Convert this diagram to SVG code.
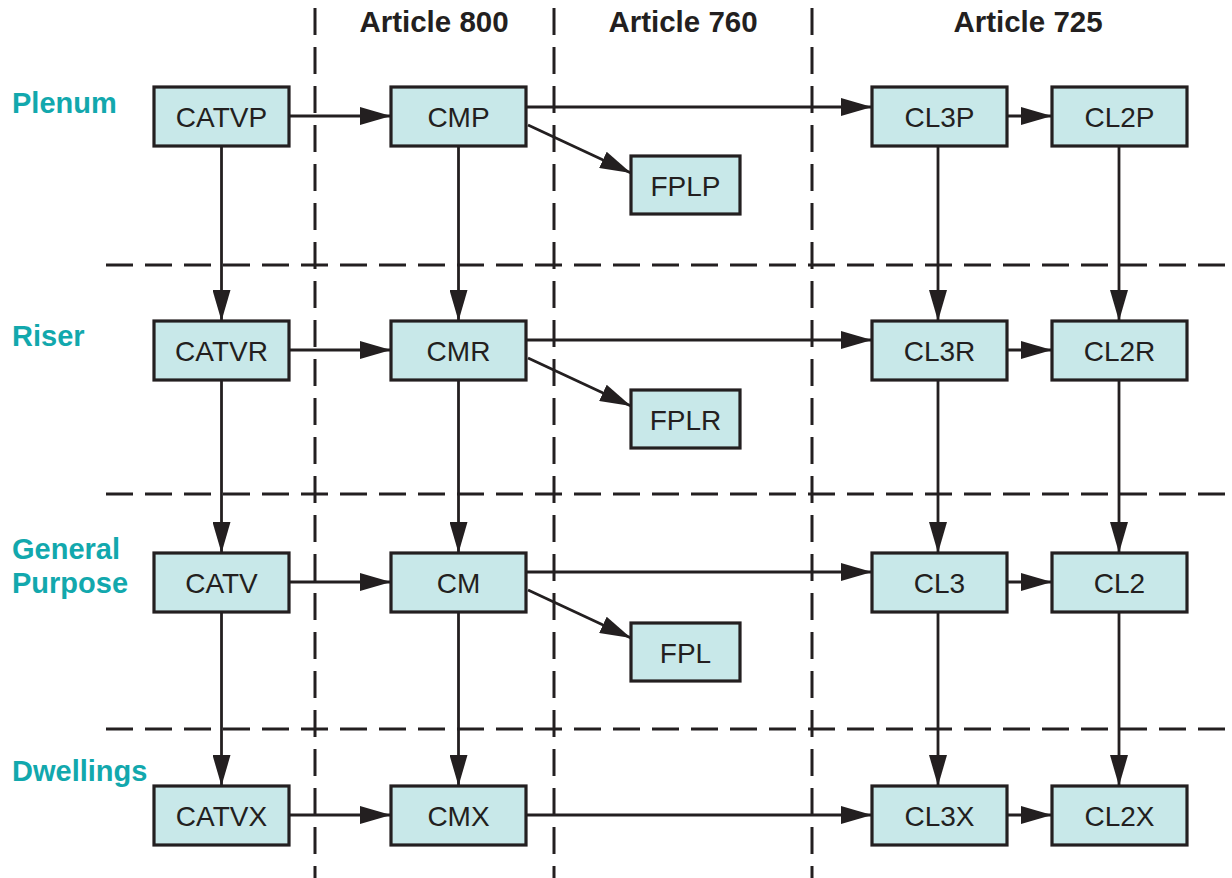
<svg xmlns="http://www.w3.org/2000/svg" width="1232" height="878" viewBox="0 0 1232 878">
<style>
.bg{fill:#ffffff}
.grid{stroke:#231f20;stroke-width:3;stroke-dasharray:27 12;fill:none}
.box{fill:#c8e8e9;stroke:#231f20;stroke-width:3.2}
.lbl{font-family:"Liberation Sans",Arial,sans-serif;font-size:28px;fill:#231f20;text-anchor:middle}
.hdr{font-family:"Liberation Sans",Arial,sans-serif;font-size:29.5px;font-weight:bold;fill:#231f20;text-anchor:middle}
.row{font-family:"Liberation Sans",Arial,sans-serif;font-size:29px;font-weight:bold;fill:#12a8ad}
.con{stroke:#231f20;stroke-width:2.8;fill:none;marker-end:url(#ah)}
</style>
<defs>
<marker id="ah" viewBox="0 0 31 18" refX="31" refY="9" markerWidth="31" markerHeight="18" markerUnits="userSpaceOnUse" orient="auto">
<path d="M0,0 L31,9 L0,18 Z" fill="#231f20"/>
</marker>
</defs>
<rect class="bg" x="0" y="0" width="1232" height="878"/>
<g id="gridlines">
<line class="grid" x1="315" y1="8" x2="315" y2="878"/>
<line class="grid" x1="554" y1="8" x2="554" y2="878"/>
<line class="grid" x1="812" y1="8" x2="812" y2="878"/>
<line class="grid" x1="106" y1="265" x2="1232" y2="265"/>
<line class="grid" x1="106" y1="494" x2="1232" y2="494"/>
<line class="grid" x1="106" y1="729" x2="1232" y2="729"/>
</g>
<g id="headers">
<text class="hdr" x="434" y="32">Article 800</text>
<text class="hdr" x="683" y="32">Article 760</text>
<text class="hdr" x="1028" y="32">Article 725</text>
</g>
<g id="row-labels">
<text class="row" x="12" y="113">Plenum</text>
<text class="row" x="12" y="346">Riser</text>
<text class="row" x="12" y="559">General</text>
<text class="row" x="12" y="593">Purpose</text>
<text class="row" x="12" y="781">Dwellings</text>
</g>
<g id="connectors">
<line class="con" x1="289" y1="116" x2="391" y2="116"/>
<line class="con" x1="526" y1="107" x2="872" y2="107"/>
<line class="con" x1="528" y1="125" x2="631" y2="173"/>
<line class="con" x1="1007" y1="116" x2="1052" y2="116"/>
<line class="con" x1="289" y1="350" x2="391" y2="350"/>
<line class="con" x1="526" y1="340" x2="872" y2="340"/>
<line class="con" x1="528" y1="358" x2="631" y2="406"/>
<line class="con" x1="1007" y1="350" x2="1052" y2="350"/>
<line class="con" x1="289" y1="582" x2="391" y2="582"/>
<line class="con" x1="526" y1="572" x2="872" y2="572"/>
<line class="con" x1="528" y1="590" x2="631" y2="638"/>
<line class="con" x1="1007" y1="582" x2="1052" y2="582"/>
<line class="con" x1="289" y1="815" x2="391" y2="815"/>
<line class="con" x1="526" y1="815" x2="872" y2="815"/>
<line class="con" x1="1007" y1="815" x2="1052" y2="815"/>
<line class="con" x1="221.5" y1="146" x2="221.5" y2="321"/>
<line class="con" x1="221.5" y1="380" x2="221.5" y2="553"/>
<line class="con" x1="221.5" y1="612" x2="221.5" y2="786"/>
<line class="con" x1="458.5" y1="146" x2="458.5" y2="321"/>
<line class="con" x1="458.5" y1="380" x2="458.5" y2="553"/>
<line class="con" x1="458.5" y1="612" x2="458.5" y2="786"/>
<line class="con" x1="938" y1="146" x2="938" y2="321"/>
<line class="con" x1="938" y1="380" x2="938" y2="553"/>
<line class="con" x1="938" y1="612" x2="938" y2="786"/>
<line class="con" x1="1119" y1="146" x2="1119" y2="321"/>
<line class="con" x1="1119" y1="380" x2="1119" y2="553"/>
<line class="con" x1="1119" y1="612" x2="1119" y2="786"/>
</g>
<g id="CATVP"><rect class="box" x="154" y="87" width="135" height="59"/><text class="lbl" x="221.5" y="126.5">CATVP</text></g>
<g id="CMP"><rect class="box" x="391" y="87" width="135" height="59"/><text class="lbl" x="458.5" y="126.5">CMP</text></g>
<g id="FPLP"><rect class="box" x="631" y="156" width="109" height="58"/><text class="lbl" x="685.5" y="195.5">FPLP</text></g>
<g id="CL3P"><rect class="box" x="872" y="87" width="135" height="59"/><text class="lbl" x="939.5" y="126.5">CL3P</text></g>
<g id="CL2P"><rect class="box" x="1052" y="87" width="135" height="59"/><text class="lbl" x="1119.5" y="126.5">CL2P</text></g>
<g id="CATVR"><rect class="box" x="154" y="321" width="135" height="59"/><text class="lbl" x="221.5" y="360.5">CATVR</text></g>
<g id="CMR"><rect class="box" x="391" y="321" width="135" height="59"/><text class="lbl" x="458.5" y="360.5">CMR</text></g>
<g id="FPLR"><rect class="box" x="631" y="390" width="109" height="58"/><text class="lbl" x="685.5" y="429.5">FPLR</text></g>
<g id="CL3R"><rect class="box" x="872" y="321" width="135" height="59"/><text class="lbl" x="939.5" y="360.5">CL3R</text></g>
<g id="CL2R"><rect class="box" x="1052" y="321" width="135" height="59"/><text class="lbl" x="1119.5" y="360.5">CL2R</text></g>
<g id="CATV"><rect class="box" x="154" y="553" width="135" height="59"/><text class="lbl" x="221.5" y="592.5">CATV</text></g>
<g id="CM"><rect class="box" x="391" y="553" width="135" height="59"/><text class="lbl" x="458.5" y="592.5">CM</text></g>
<g id="FPL"><rect class="box" x="631" y="623" width="109" height="58"/><text class="lbl" x="685.5" y="662.5">FPL</text></g>
<g id="CL3"><rect class="box" x="872" y="553" width="135" height="59"/><text class="lbl" x="939.5" y="592.5">CL3</text></g>
<g id="CL2"><rect class="box" x="1052" y="553" width="135" height="59"/><text class="lbl" x="1119.5" y="592.5">CL2</text></g>
<g id="CATVX"><rect class="box" x="154" y="786" width="135" height="59"/><text class="lbl" x="221.5" y="825.5">CATVX</text></g>
<g id="CMX"><rect class="box" x="391" y="786" width="135" height="59"/><text class="lbl" x="458.5" y="825.5">CMX</text></g>
<g id="CL3X"><rect class="box" x="872" y="786" width="135" height="59"/><text class="lbl" x="939.5" y="825.5">CL3X</text></g>
<g id="CL2X"><rect class="box" x="1052" y="786" width="135" height="59"/><text class="lbl" x="1119.5" y="825.5">CL2X</text></g>
</svg>
